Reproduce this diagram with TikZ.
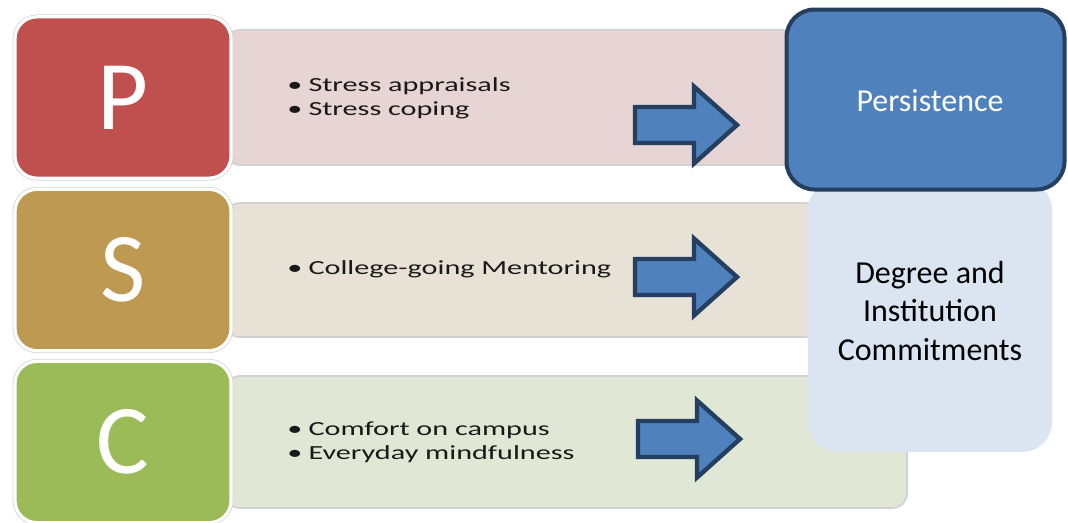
\documentclass[tikz,border=0pt]{standalone}
\usepackage{fontspec}
\setmainfont{Carlito}
\begin{document}
\definecolor{pRed}{HTML}{C0504D}
\definecolor{sTan}{RGB}{190,153,82}
\definecolor{cGreen}{HTML}{9BBB59}
\definecolor{pBand}{HTML}{E7D4D4}
\definecolor{sBand}{HTML}{E8E1D6}
\definecolor{cBand}{HTML}{E0E7D5}
\definecolor{accent}{HTML}{4F81BD}
\definecolor{navy}{HTML}{243F60}
\definecolor{paleBlue}{HTML}{DBE5F1}
\begin{tikzpicture}[x=0.75pt,y=-0.75pt,
  letterbox/.style={rectangle, rounded corners=16.5pt, fill=#1,
    preaction={draw=black!16, line width=3.6pt},
    draw=white, line width=2.4pt,
    minimum width=162pt, minimum height=121pt, inner sep=0pt,
    text=white, font=\fontsize{74}{80}\selectfont},
  band/.style={rectangle, rounded corners=11pt, fill=#1,
    draw=black!18, line width=1.2pt, inner sep=0pt},
  items/.style={anchor=west, align=left, xscale=1.51, inner sep=0pt,
    text=black!90, font=\fontsize{15}{18}\selectfont},
  blockarrow/.pic={
    \path[fill=accent, draw=navy, line width=3.3pt, line join=miter]
      (0,-18) -- (59,-18) -- (59,-38.5) -- (102,0) -- (59,38.5)
      -- (59,18) -- (0,18) -- cycle;
  }
]
\useasboundingbox (0,0) rectangle (1068,522);

% horizontal bands behind the letter tiles
\node[band=pBand, minimum width=431.25pt, minimum height=101.25pt] (bandP) at (512.5,97.5) {};
\node[band=sBand, minimum width=446.25pt, minimum height=100.5pt] (bandS) at (522.5,270) {};
\node[band=cBand, minimum width=511.5pt, minimum height=99pt] (bandC) at (566,442) {};

% letter tiles
\node[letterbox=pRed] (P) at (123,97.5) {P};
\node[letterbox=sTan] (S) at (123,270) {S};
\node[letterbox=cGreen] (C) at (123,442) {C};

% bullet lists
\newcommand\itm[1]{\makebox[0.7em][l]{\textbullet}#1}
\node[items] (listP) at (287,98) {\itm{Stress appraisals}\\\itm{Stress coping}};
\node[items] (listS) at (287,269) {\itm{College-going Mentoring}};
\node[items] (listC) at (287,442) {\itm{Comfort on campus}\\\itm{Everyday mindfulness}};

% block arrows
\pic at (635,125) {blockarrow};
\pic at (635,277) {blockarrow};
\pic at (638,439) {blockarrow};

% outcome boxes
\node[rectangle, rounded corners=22.5pt, fill=paleBlue, inner sep=0pt,
  minimum width=183pt, minimum height=204pt] (commit) at (930,316) {};
\node[align=center, font=\fontsize{24}{29.25}\selectfont] (commitText) at (930,311)
  {Degree and\\Institution\\Commitments};
\node[rectangle, rounded corners=21pt, fill=accent, draw=navy, line width=3pt,
  minimum width=208.5pt, minimum height=135pt, inner sep=0pt] (persist) at (925.5,99.5) {};
\node[text=white, font=\fontsize{24}{28}\selectfont] (persistText) at (930,101) {Persistence};
\end{tikzpicture}
\end{document}
